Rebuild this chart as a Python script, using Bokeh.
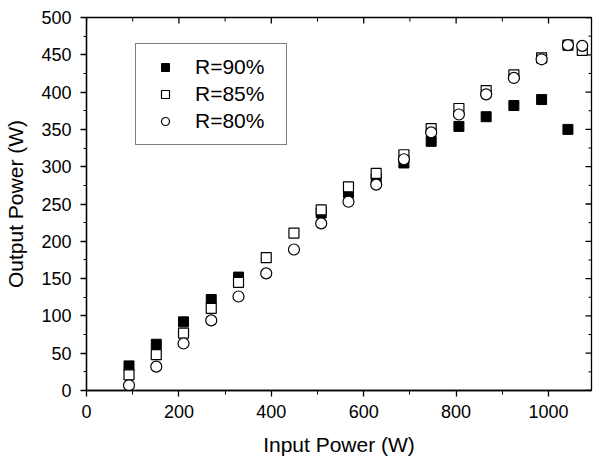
from bokeh.plotting import figure
from bokeh.models import Range1d, SingleIntervalTicker, Legend, LegendItem
from bokeh.embed import file_html
from bokeh.resources import INLINE

# ---- data ----
x_90 = [92, 151, 210, 270, 329, 508, 567, 627, 687, 746, 806, 865, 925, 985, 1042]
r_90 = [33, 62, 92, 122, 152, 238, 265, 284, 305, 334, 354, 367, 382, 390, 350]

x_85 = [92, 151, 210, 270, 329, 389, 449, 508, 567, 627, 687, 746, 806, 865, 925, 985, 1042, 1073]
r_85 = [21, 48, 77, 110, 145, 178, 211, 242, 273, 291, 316, 351, 378, 402, 423, 446, 463, 456]

x_80 = [92, 151, 210, 270, 329, 389, 449, 508, 567, 627, 687, 746, 806, 865, 925, 985, 1042, 1073]
r_80 = [7, 32, 63, 94, 126, 157, 189, 224, 253, 276, 310, 346, 370, 397, 419, 444, 463, 462]

labels = ["R=90%", "R=85%", "R=80%"]
x_title = "Input Power (W)"
y_title = "Output Power (W)"

x_ticks_major = [0, 200, 400, 600, 800, 1000]
x_ticks_minor = [100, 300, 500, 700, 900]
y_ticks_major = [0, 50, 100, 150, 200, 250, 300, 350, 400, 450, 500]
y_ticks_minor = [25, 75, 125, 175, 225, 275, 325, 375, 425, 475]

X_MAX = 1093
Y_MAX = 500
FW, FH = 505, 373
FONT = "Liberation Sans"

p = figure(frame_width=FW, frame_height=FH,
           x_range=Range1d(0, X_MAX), y_range=Range1d(0, Y_MAX),
           output_backend="svg", toolbar_location=None,
           min_border_left=86, min_border_top=17, min_border_right=2, min_border_bottom=10,
           background_fill_color="white", border_fill_color="white")
p.grid.visible = False
p.outline_line_color = "black"
p.outline_line_width = 1.3

def style_main(ax, major, minor_n):
    ax.ticker = SingleIntervalTicker(interval=major, num_minor_ticks=minor_n)
    ax.axis_line_color = "black"
    ax.axis_line_width = 1.3
    ax.major_tick_line_color = "black"
    ax.minor_tick_line_color = "black"
    ax.major_tick_line_width = 1.3
    ax.minor_tick_line_width = 1.0
    ax.major_label_text_font = FONT
    ax.major_label_text_font_size = "18px"
    ax.major_label_text_color = "black"
    ax.axis_label_text_font = FONT
    ax.axis_label_text_font_size = "21px"
    ax.axis_label_text_font_style = "normal"
    ax.axis_label_text_color = "black"

xa = p.xaxis[0]
style_main(xa, 200, 2)
xa.major_tick_out = 6
xa.major_tick_in = 0
xa.minor_tick_out = 4
xa.minor_tick_in = 0
xa.major_label_standoff = 8
xa.axis_label = x_title
xa.axis_label_standoff = 12

ya = p.yaxis[0]
style_main(ya, 50, 2)
ya.major_tick_out = 6
ya.major_tick_in = 0
ya.minor_tick_out = 3
ya.minor_tick_in = 0
ya.major_label_standoff = 9
ya.axis_label = y_title
ya.axis_label_standoff = 11

# mirrored inward ticks on the top and right frame edges
px_x = X_MAX / FW   # data units per pixel (x)
px_y = Y_MAX / FH   # data units per pixel (y)
p.segment(x0=x_ticks_major, y0=[Y_MAX] * len(x_ticks_major),
          x1=x_ticks_major, y1=[Y_MAX - 6 * px_y] * len(x_ticks_major),
          line_color="black", line_width=1.3)
p.segment(x0=x_ticks_minor, y0=[Y_MAX] * len(x_ticks_minor),
          x1=x_ticks_minor, y1=[Y_MAX - 4 * px_y] * len(x_ticks_minor),
          line_color="black", line_width=1.0)
p.segment(x0=[X_MAX] * len(y_ticks_major), y0=y_ticks_major,
          x1=[X_MAX - 6 * px_x] * len(y_ticks_major), y1=y_ticks_major,
          line_color="black", line_width=1.3)
p.segment(x0=[X_MAX] * len(y_ticks_minor), y0=y_ticks_minor,
          x1=[X_MAX - 3 * px_x] * len(y_ticks_minor), y1=y_ticks_minor,
          line_color="black", line_width=1.0)

s90 = p.scatter(x_90, r_90, marker="square", size=10, fill_color="black", line_color="black", line_width=1)
s85 = p.scatter(x_85, r_85, marker="square", size=10, fill_color="white", line_color="black", line_width=1.2)
s80 = p.scatter(x_80, r_80, marker="circle", size=11, fill_color="white", line_color="black", line_width=1.2)

legend = Legend(items=[LegendItem(label=labels[0], renderers=[s90]),
                       LegendItem(label=labels[1], renderers=[s85]),
                       LegendItem(label=labels[2], renderers=[s80])],
                location=(49, 245))
legend.border_line_color = "black"
legend.border_line_width = 1.3
legend.background_fill_color = "white"
legend.background_fill_alpha = 1
legend.label_text_font = FONT
legend.label_text_font_size = "21px"
legend.label_text_color = "black"
legend.padding = 11
legend.spacing = 3
legend.glyph_width = 36
legend.glyph_height = 20
legend.label_height = 20
legend.label_width = 80
legend.label_standoff = 12
legend.margin = 0
p.add_layout(legend, "center")

open("out.html", "w").write(file_html(p, INLINE))
